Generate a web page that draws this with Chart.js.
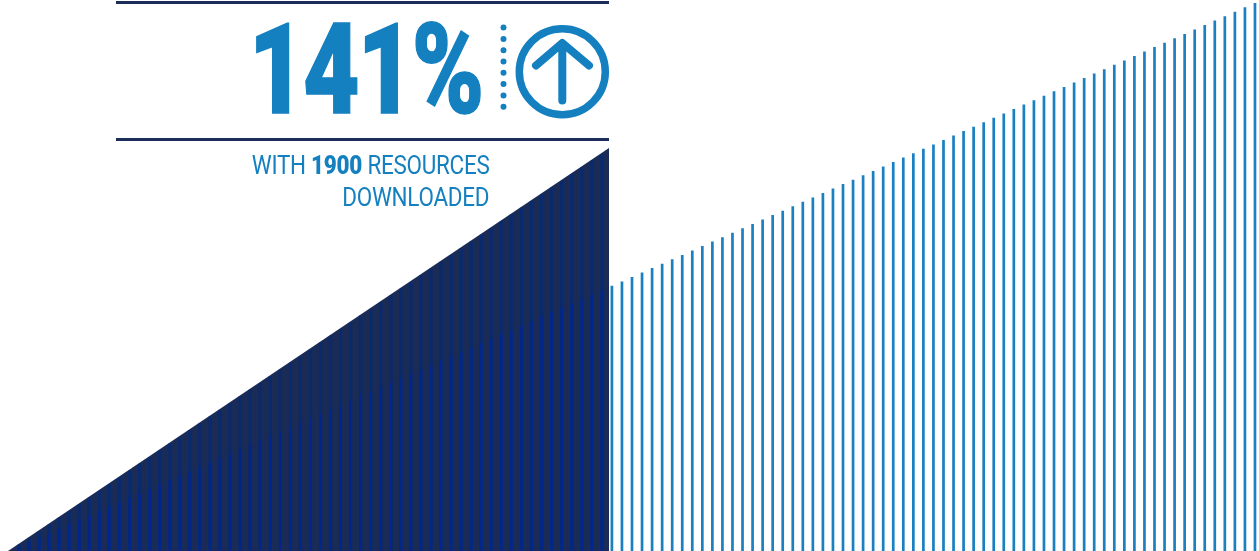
<!DOCTYPE html>
<html>
<head>
<meta charset="utf-8">
<title>141% resources downloaded</title>
<script src="https://cdn.jsdelivr.net/npm/chart.js@4/dist/chart.umd.min.js"></script>
<style>
  html, body { margin: 0; padding: 0; background: #fff; overflow: hidden; }
  #stage { position: relative; width: 1259px; height: 551px; overflow: hidden; }
  #stage canvas { position: absolute; left: 0; top: 0; }
  .rule { position: absolute; left: 116px; width: 493px; height: 3px; background: #1c2d5a; }
  .txt { position: absolute; color: #1480c0; font-family: Roboto, sans-serif; white-space: nowrap; }
  #big { right: 777px; top: -5px; font-size: 127px; line-height: 150px; font-weight: 900; letter-spacing: -3px;
         -webkit-text-stroke: 1.5px #1480c0;
         transform: scaleX(0.77); transform-origin: right center; }
  .sub { right: 770px; font-size: 26px; line-height: 30px; font-weight: 400; letter-spacing: -0.3px;
         transform: scaleX(0.863); transform-origin: right center; }
  .sub b { font-weight: 900; }
  svg { position: absolute; left: 0; top: 0; }
</style>
</head>
<body>
<div id="stage">
  <canvas id="chart" width="1260" height="551" style="width:1260px;height:551px"></canvas>
  <div class="rule" style="top:1px"></div>
  <div class="rule" style="top:138px"></div>
  <div class="txt" id="big">141%</div>
  <div class="txt sub" style="top:150px">WITH <b>1900</b> RESOURCES</div>
  <div class="txt sub" style="top:182px">DOWNLOADED</div>
  <svg width="640" height="130" fill="none" stroke="#1480c0">
    <line x1="503.5" y1="27.6" x2="503.5" y2="118" stroke-width="6" stroke-linecap="round" stroke-dasharray="0 11.3"/>
    <circle cx="562.3" cy="71.7" r="43" stroke-width="7.5"/>
    <path d="M562.3 44V100.5M536 65.5L562.3 43L589 65.5" stroke-width="8" stroke-linecap="round" stroke-linejoin="round"/>
  </svg>
</div>
<script>
// Rising stripes: one value per stripe, from the baseline up to the right edge.
const stripeValues = [
  0, 4.4, 8.8, 13.3, 17.7, 22.1, 26.5, 30.9, 35.4, 39.8,
  44.2, 48.6, 53, 57.5, 61.9, 66.3, 70.7, 75.1, 79.6, 84,
  88.4, 92.8, 97.2, 101.7, 106.1, 110.5, 114.9, 119.3, 123.8, 128.2,
  132.6, 137, 141.4, 145.9, 150.3, 154.7, 159.1, 163.5, 168, 172.4,
  176.8, 181.2, 185.6, 190.1, 194.5, 198.9, 203.3, 207.7, 212.2, 216.6,
  221, 225.4, 229.8, 234.3, 238.7, 243.1, 247.5, 251.9, 256.4, 260.8,
  265.2, 269.6, 274, 278.5, 282.9, 287.3, 291.7, 296.1, 300.6, 305,
  309.4, 313.8, 318.2, 322.7, 327.1, 331.5, 335.9, 340.3, 344.8, 349.2,
  353.6, 358, 362.4, 366.9, 371.3, 375.7, 380.1, 384.5, 389, 393.4,
  397.8, 402.2, 406.6, 411.1, 415.5, 419.9, 424.3, 428.7, 433.2, 437.6,
  442, 446.4, 450.8, 455.3, 459.7, 464.1, 468.5, 472.9, 477.4, 481.8,
  486.2, 490.6, 495, 499.5, 503.9, 508.3, 512.7, 517.1, 521.6, 526,
  530.4, 534.8, 539.2, 543.7, 548.1
];

// Faint stripes inside the navy wedge, each rising to the wedge's edge.
const wedgeStripeValues = [
  0, 6.3, 13.1, 19.8, 26.5, 33.3, 40, 46.8, 53.5, 60.2,
  67, 73.7, 80.4, 87.2, 93.9, 100.7, 107.4, 114.1, 120.9, 127.6,
  134.3, 141.1, 147.8, 154.6, 161.3, 168, 174.8, 181.5, 188.2, 195,
  201.7, 208.4, 215.2, 221.9, 228.7, 235.4, 242.1, 248.9, 255.6, 262.3,
  269.1, 275.8, 282.6, 289.3, 296, 302.8, 309.5, 316.2, 323, 329.7,
  336.5, 343.2, 349.9, 356.7, 363.4, 370.1, 376.9, 383.6, 390.3, 397.1
];

// Outline of the navy wedge.
const wedgeX = [4, 605];
const wedgeY = [0, 403];

const categories = stripeValues.map((_, i) => String(i + 1));
const wedgeStripeCount = wedgeStripeValues.length;

new Chart(document.getElementById('chart'), {
  data: {
    labels: categories,
    datasets: [
      {
        type: 'line',
        label: 'Wedge',
        xAxisID: 'xWedge',
        data: wedgeX.map((x, i) => ({ x, y: wedgeY[i] })),
        borderWidth: 0,
        pointRadius: 0,
        tension: 0,
        fill: 'origin',
        backgroundColor: '#1a2b56',
        order: 3
      },
      {
        type: 'bar',
        label: 'Resources',
        data: stripeValues,
        backgroundColor: categories.map((_, i) => i < wedgeStripeCount ? '#02278a' : '#1a80c1'),
        grouped: false,
        barThickness: 2.7,
        inflateAmount: 0,
        order: 1
      },
      {
        type: 'bar',
        label: 'Wedge stripes',
        data: wedgeStripeValues,
        backgroundColor: '#0a2a6e',
        grouped: false,
        barThickness: 3.2,
        inflateAmount: 0,
        order: 2
      }
    ]
  },
  options: {
    responsive: false,
    animation: false,
    layout: { padding: { left: 4, right: 0, top: 0, bottom: 0 } },
    plugins: { legend: { display: false }, tooltip: { enabled: false } },
    scales: {
      x: { display: false, offset: true },
      xWedge: { type: 'linear', display: false, min: 0, max: 1256 },
      y: { display: false, min: 0, max: 551 }
    }
  }
});
</script>
</body>
</html>
